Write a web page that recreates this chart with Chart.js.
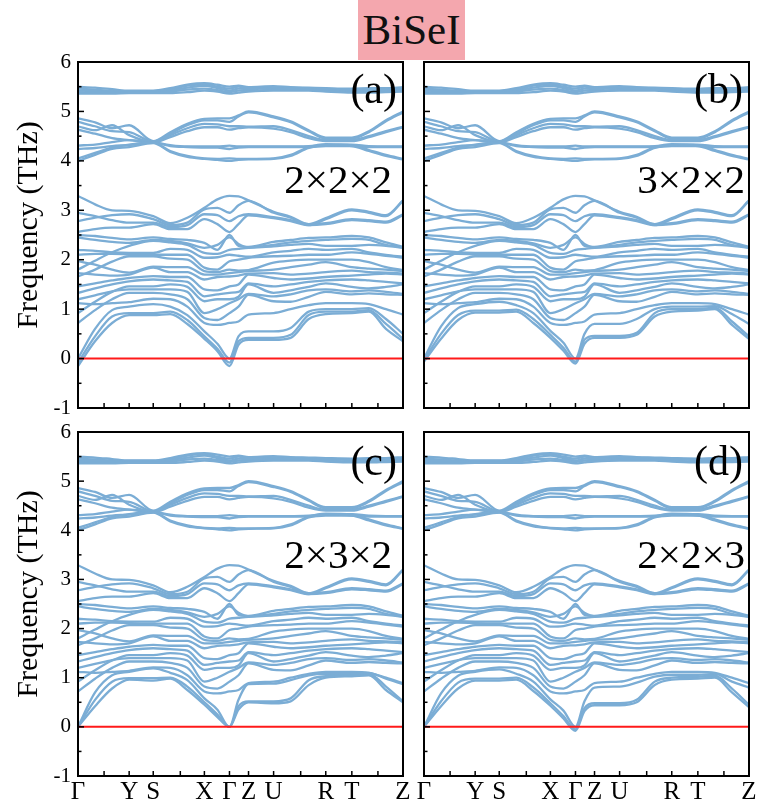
<!DOCTYPE html>
<html>
<head>
<meta charset="utf-8">
<script src="https://cdn.jsdelivr.net/npm/chart.js@4.4.1/dist/chart.umd.min.js"></script>
<style>
  body { margin: 0; background: #fff; width: 760px; height: 809px; position: relative; overflow: hidden; }
  #title { position: absolute; left: 358px; top: 0; width: 107px; height: 60px; background: #f4a7ae;
           font-family: "Liberation Serif", serif; font-size: 43px; line-height: 60px; text-align: center; color: #111; }
  #warm { position: absolute; left: -999px; top: 0; font-family: "Liberation Serif", serif; font-size: 20px; }
  canvas { position: absolute; }
</style>
</head>
<body>
<div id="title">BiSeI</div>
<div id="warm">Frequency (THz) 0123456789 ΓYSXZURT ×()abcd</div>
<canvas id="pa" width="410" height="380" style="left:0;top:40px"></canvas>
<canvas id="pb" width="410" height="380" style="left:346px;top:40px"></canvas>
<canvas id="pc" width="410" height="397" style="left:0;top:412px"></canvas>
<canvas id="pd" width="410" height="397" style="left:346px;top:412px"></canvas>
<script>
// path positions of the sampled q-points: Γ .. Y S .. X . Γ . Z U .. R T .. Z
const kPath = [0, 0.17, 0.34, 0.51, 0.75, 0.92, 1.09, 1.26, 1.39, 1.51, 1.60, 1.70, 1.95, 2.12, 2.30, 2.47, 2.73, 2.90, 3.07, 3.24];
const kTicks = [0, 0.51, 0.75, 1.26, 1.51, 1.70, 1.95, 2.47, 2.73, 3.24];
const kNames = ["Γ", "Y", "S", "X", "Γ", "Z", "U", "R", "T", "Z"];
const kMinor = [0.26, 1.02, 2.22, 2.99];
const yMajor = [-1, 0, 1, 2, 3, 4, 5, 6];
const yMinor = [-0.5, 0.5, 1.5, 2.5, 3.5, 4.5, 5.5];
const zeroK = [0, 3.24];
const zeroF = [0, 0];

// acoustic branches, one set per supercell
const acousticA = [
  [-0.15, 0.35, 0.72, 0.88, 0.88, 0.90, 0.70, 0.40, 0.15, -0.15, 0.28, 0.38, 0.38, 0.42, 0.80, 0.90, 0.92, 0.95, 0.60, 0.35],
  [-0.08, 0.45, 0.85, 0.92, 0.92, 0.95, 0.78, 0.45, 0.20, -0.08, 0.35, 0.42, 0.42, 0.48, 0.88, 0.95, 0.95, 0.98, 0.70, 0.40],
  [0, 0.60, 0.98, 1.05, 1.10, 1.05, 0.88, 0.55, 0.30, 0, 0.45, 0.55, 0.55, 0.62, 0.95, 1.00, 1.00, 1.02, 0.80, 0.50]
];
const acousticB = [
  [-0.06, 0.40, 0.78, 0.93, 0.93, 0.95, 0.72, 0.42, 0.16, -0.10, 0.30, 0.42, 0.42, 0.48, 0.85, 0.95, 0.97, 1.00, 0.68, 0.40],
  [-0.03, 0.50, 0.88, 0.97, 0.97, 0.99, 0.80, 0.48, 0.22, -0.06, 0.38, 0.46, 0.46, 0.52, 0.92, 1.00, 1.00, 1.03, 0.75, 0.45],
  [0, 0.65, 1.02, 1.10, 1.15, 1.08, 0.92, 0.56, 0.32, 0, 0.50, 0.70, 0.70, 0.80, 1.00, 1.05, 1.05, 1.06, 0.90, 0.70]
];
const acousticC = [
  [0, 0.42, 0.78, 0.96, 0.94, 0.98, 0.75, 0.45, 0.20, 0, 0.35, 0.50, 0.48, 0.52, 0.85, 1.00, 1.03, 1.05, 0.75, 0.50],
  [0, 0.55, 0.92, 0.99, 0.99, 1.00, 0.82, 0.50, 0.25, 0, 0.42, 0.52, 0.52, 0.58, 0.95, 1.03, 1.05, 1.08, 0.82, 0.52],
  [0, 0.70, 1.05, 1.12, 1.19, 1.10, 0.95, 0.58, 0.35, 0, 0.55, 0.87, 0.88, 0.95, 1.05, 1.08, 1.08, 1.10, 0.98, 0.87]
];
const acousticD = [
  [0, 0.42, 0.78, 0.94, 0.94, 0.96, 0.73, 0.43, 0.17, -0.08, 0.32, 0.44, 0.44, 0.50, 0.85, 0.96, 0.98, 1.00, 0.70, 0.40],
  [0, 0.52, 0.90, 0.98, 0.98, 1.00, 0.80, 0.48, 0.22, -0.05, 0.38, 0.48, 0.48, 0.55, 0.92, 1.00, 1.02, 1.04, 0.78, 0.45],
  [0, 0.68, 1.04, 1.12, 1.17, 1.08, 0.92, 0.56, 0.33, 0, 0.52, 0.80, 0.82, 0.90, 1.02, 1.06, 1.06, 1.08, 0.92, 0.80]
];

// optical branches below the gap (THz)
const lowBands = [
  [0.72, 0.98, 1.20, 1.33, 1.33, 1.30, 1.20, 0.82, 0.78, 0.92, 1.05, 1.29, 1.16, 1.15, 1.25, 1.35, 1.30, 1.32, 1.30, 1.29],
  [0.92, 1.15, 1.35, 1.46, 1.46, 1.50, 1.45, 1.16, 1.20, 1.20, 1.25, 1.50, 1.33, 1.38, 1.45, 1.52, 1.45, 1.42, 1.45, 1.50],
  [1.12, 1.10, 1.12, 1.14, 1.21, 1.20, 1.05, 0.72, 0.68, 0.72, 0.75, 0.89, 0.92, 1.00, 1.08, 1.12, 1.12, 1.10, 1.00, 0.89],
  [1.20, 1.28, 1.36, 1.40, 1.40, 1.40, 1.35, 0.92, 1.00, 1.12, 1.20, 1.31, 1.26, 1.30, 1.38, 1.40, 1.36, 1.38, 1.35, 1.31],
  [1.33, 1.42, 1.50, 1.56, 1.60, 1.58, 1.55, 1.26, 1.30, 1.33, 1.35, 1.52, 1.46, 1.50, 1.55, 1.58, 1.60, 1.58, 1.55, 1.52],
  [1.46, 1.52, 1.58, 1.63, 1.67, 1.65, 1.65, 1.40, 1.38, 1.46, 1.50, 1.70, 1.63, 1.60, 1.62, 1.65, 1.68, 1.70, 1.72, 1.70],
  [1.66, 1.80, 1.96, 2.07, 2.07, 2.02, 2.00, 1.77, 1.75, 1.80, 1.78, 1.79, 1.94, 1.98, 2.00, 2.00, 2.00, 1.95, 1.85, 1.79],
  [1.73, 1.70, 1.68, 1.70, 1.84, 1.75, 1.75, 1.60, 1.65, 1.66, 1.68, 1.72, 1.73, 1.70, 1.72, 1.75, 1.78, 1.75, 1.74, 1.72],
  [1.80, 1.98, 2.15, 2.28, 2.38, 2.35, 2.30, 2.14, 2.12, 2.20, 2.22, 2.24, 2.27, 2.30, 2.32, 2.28, 2.28, 2.30, 2.28, 2.24],
  [1.97, 1.90, 1.80, 1.74, 1.86, 1.85, 1.85, 1.70, 1.70, 1.73, 1.75, 1.77, 1.80, 1.85, 1.90, 1.95, 1.85, 1.82, 1.80, 1.77],
  [2.10, 2.12, 2.12, 2.11, 2.10, 2.10, 2.10, 1.84, 1.80, 1.97, 2.00, 2.04, 2.07, 2.08, 2.10, 2.10, 2.15, 2.12, 2.08, 2.04],
  [2.20, 2.18, 2.15, 2.14, 2.14, 2.22, 2.20, 2.04, 2.05, 2.10, 2.08, 2.06, 2.15, 2.18, 2.22, 2.20, 2.22, 2.15, 2.10, 2.06],
  [2.45, 2.40, 2.36, 2.34, 2.40, 2.38, 2.33, 2.24, 2.30, 2.45, 2.32, 2.25, 2.30, 2.35, 2.38, 2.40, 2.42, 2.40, 2.30, 2.25],
  [2.50, 2.48, 2.44, 2.41, 2.45, 2.42, 2.40, 2.34, 2.20, 2.50, 2.28, 2.26, 2.36, 2.40, 2.44, 2.45, 2.48, 2.45, 2.35, 2.26],
  [2.56, 2.62, 2.65, 2.65, 2.72, 2.62, 2.62, 2.82, 2.72, 2.56, 2.72, 2.90, 2.84, 2.78, 2.70, 2.72, 2.80, 2.78, 2.75, 2.90],
  [2.78, 2.85, 2.90, 2.92, 2.82, 2.70, 2.75, 3.02, 3.05, 2.95, 3.10, 3.19, 2.95, 2.85, 2.70, 2.82, 3.00, 2.95, 2.88, 3.19],
  [2.95, 2.88, 2.80, 2.75, 2.75, 2.66, 2.70, 2.92, 2.90, 2.78, 2.88, 2.92, 2.86, 2.80, 2.72, 2.74, 2.82, 2.80, 2.77, 2.92],
  [3.29, 3.12, 3.00, 2.99, 2.88, 2.74, 2.85, 3.05, 3.22, 3.29, 3.28, 3.20, 2.97, 2.87, 2.72, 2.84, 3.02, 2.97, 2.90, 3.20]
];

// optical branches between 4 and 5 THz
const midBands = [
  [4.00, 4.12, 4.24, 4.28, 4.36, 4.18, 4.08, 4.04, 4.02, 4.00, 4.02, 4.03, 4.04, 4.10, 4.26, 4.32, 4.30, 4.20, 4.10, 4.03],
  [4.05, 4.16, 4.27, 4.33, 4.37, 4.20, 4.10, 4.05, 4.04, 4.05, 4.04, 4.04, 4.05, 4.12, 4.28, 4.34, 4.32, 4.22, 4.12, 4.04],
  [4.24, 4.26, 4.30, 4.32, 4.37, 4.30, 4.28, 4.27, 4.27, 4.24, 4.27, 4.28, 4.28, 4.28, 4.28, 4.30, 4.30, 4.28, 4.28, 4.28],
  [4.31, 4.33, 4.38, 4.42, 4.38, 4.32, 4.29, 4.29, 4.29, 4.31, 4.29, 4.29, 4.29, 4.29, 4.30, 4.32, 4.33, 4.30, 4.29, 4.29],
  [4.63, 4.55, 4.46, 4.42, 4.37, 4.48, 4.60, 4.68, 4.68, 4.63, 4.66, 4.68, 4.65, 4.58, 4.46, 4.40, 4.40, 4.48, 4.58, 4.68],
  [4.70, 4.62, 4.72, 4.52, 4.38, 4.52, 4.66, 4.75, 4.74, 4.70, 4.70, 4.69, 4.70, 4.62, 4.50, 4.42, 4.42, 4.50, 4.60, 4.69],
  [4.79, 4.70, 4.60, 4.58, 4.39, 4.55, 4.72, 4.82, 4.82, 4.79, 4.90, 4.98, 4.88, 4.78, 4.60, 4.45, 4.45, 4.58, 4.80, 4.98],
  [4.86, 4.78, 4.66, 4.72, 4.40, 4.58, 4.75, 4.85, 4.86, 4.86, 4.92, 5.00, 4.90, 4.80, 4.62, 4.47, 4.47, 4.60, 4.82, 5.00]
];

// highest optical branches near 5.4 THz
const topBands = [
  [5.36, 5.36, 5.36, 5.37, 5.37, 5.37, 5.39, 5.42, 5.40, 5.36, 5.38, 5.40, 5.42, 5.42, 5.42, 5.40, 5.38, 5.38, 5.39, 5.40],
  [5.39, 5.38, 5.38, 5.38, 5.38, 5.40, 5.44, 5.46, 5.43, 5.39, 5.42, 5.42, 5.44, 5.45, 5.44, 5.42, 5.40, 5.40, 5.41, 5.42],
  [5.42, 5.41, 5.40, 5.39, 5.40, 5.43, 5.48, 5.52, 5.47, 5.42, 5.46, 5.45, 5.47, 5.46, 5.46, 5.45, 5.43, 5.43, 5.44, 5.45],
  [5.46, 5.44, 5.42, 5.41, 5.41, 5.45, 5.52, 5.55, 5.50, 5.46, 5.50, 5.47, 5.49, 5.48, 5.47, 5.46, 5.45, 5.45, 5.46, 5.47],
  [5.50, 5.48, 5.45, 5.42, 5.42, 5.47, 5.54, 5.57, 5.54, 5.50, 5.52, 5.49, 5.51, 5.49, 5.48, 5.47, 5.46, 5.47, 5.47, 5.49]
];

const bandColor = "#7badd5";
const serif = '"Liberation Serif", "Times New Roman", serif';

// inward ticks, frame, panel tags and the axis title
const frameTicks = {
  id: "frameTicks",
  afterDatasetsDraw(chart, args, opts) {
    const { ctx, chartArea: a, scales: { x, y } } = chart;
    ctx.save();
    ctx.strokeStyle = "#000";
    ctx.lineWidth = 1.5;
    const seg = (x1, y1, x2, y2) => { ctx.beginPath(); ctx.moveTo(x1, y1); ctx.lineTo(x2, y2); ctx.stroke(); };
    yMajor.forEach(v => { const p = y.getPixelForValue(v); seg(a.left, p, a.left + 6, p); });
    yMinor.forEach(v => { const p = y.getPixelForValue(v); seg(a.left, p, a.left + 3.5, p); });
    kTicks.concat(kMinor).forEach(v => { const p = x.getPixelForValue(v); seg(p, a.bottom, p, a.bottom - 5); });
    ctx.lineWidth = 2;
    ctx.strokeRect(a.left, a.top, a.width, a.height);

    ctx.fillStyle = "#000";
    ctx.textAlign = "right";
    ctx.textBaseline = "alphabetic";
    ctx.font = "42px " + serif;
    ctx.fillText(opts.tag, a.right - 6, a.top + opts.tagY);
    ctx.font = "41px " + serif;
    ctx.fillText(opts.cell, a.right - opts.cellDx, a.top + opts.cellY);

    if (opts.yTitle) {
      ctx.translate(29, (a.top + a.bottom) / 2 - 10);
      ctx.rotate(-Math.PI / 2);
      ctx.textAlign = "center";
      ctx.textBaseline = "middle";
      ctx.font = "30px " + serif;
      ctx.fillText("Frequency (THz)", 0, 0);
    }
    ctx.restore();
  }
};

function bandSet(list) {
  return list.map(b => ({
    data: kPath.map((k, i) => ({ x: k, y: b[i] })),
    borderColor: bandColor,
    borderWidth: 2.3,
    pointRadius: 0,
    cubicInterpolationMode: "monotone",
    fill: false
  }));
}

const charts = [];

function makePanel(id, acoustic, tagOpts, showLeft, showBottom, topPad, xHeight) {
  const zero = {
    data: zeroK.map((k, i) => ({ x: k, y: zeroF[i] })),
    borderColor: "#ff1a1a",
    borderWidth: 2,
    pointRadius: 0
  };
  charts.push(new Chart(document.getElementById(id), {
    type: "line",
    data: { datasets: [zero].concat(bandSet(acoustic), bandSet(lowBands), bandSet(midBands), bandSet(topBands)) },
    options: {
      responsive: false,
      animation: false,
      events: [],
      layout: { padding: { top: topPad, right: 7, left: 0, bottom: 0 } },
      plugins: { legend: { display: false }, tooltip: { enabled: false }, frameTicks: tagOpts },
      scales: {
        x: {
          type: "linear",
          min: 0,
          max: 3.24,
          grid: { display: false, drawTicks: false },
          border: { display: false },
          afterBuildTicks: s => { s.ticks = kTicks.map(v => ({ value: v })); },
          afterFit: s => { s.height = xHeight; s.paddingLeft = 0; s.paddingRight = 0; },
          ticks: {
            display: showBottom,
            autoSkip: false,
            maxRotation: 0,
            padding: 1,
            color: "#000",
            font: { family: serif, size: 25 },
            callback: (v, i) => kNames[i]
          }
        },
        y: {
          min: -1,
          max: 6,
          grid: { display: false, drawTicks: false },
          border: { display: false },
          afterFit: s => { s.width = 78; s.paddingTop = 0; s.paddingBottom = 0; },
          ticks: {
            display: showLeft,
            stepSize: 1,
            padding: 7,
            color: "#000",
            font: { family: serif, size: 21 }
          }
        }
      }
    },
    plugins: [frameTicks]
  }));
}

function drawAll() {
  makePanel("pa", acousticA, { tag: "(a)", cell: "2×2×2", tagY: 41, cellY: 131, cellDx: 11, yTitle: true }, true, false, 22, 12);
  makePanel("pb", acousticB, { tag: "(b)", cell: "3×2×2", tagY: 41, cellY: 131, cellDx: 4, yTitle: false }, false, false, 22, 12);
  makePanel("pc", acousticC, { tag: "(c)", cell: "2×3×2", tagY: 43, cellY: 136, cellDx: 11, yTitle: true }, true, true, 20, 33);
  makePanel("pd", acousticD, { tag: "(d)", cell: "2×2×3", tagY: 43, cellY: 136, cellDx: 4, yTitle: false }, false, true, 20, 33);
}

drawAll();
// redraw once the serif face is ready for canvas text
document.fonts.load('30px "Liberation Serif"').then(() => charts.forEach(c => c.update()));
</script>
</body>
</html>
